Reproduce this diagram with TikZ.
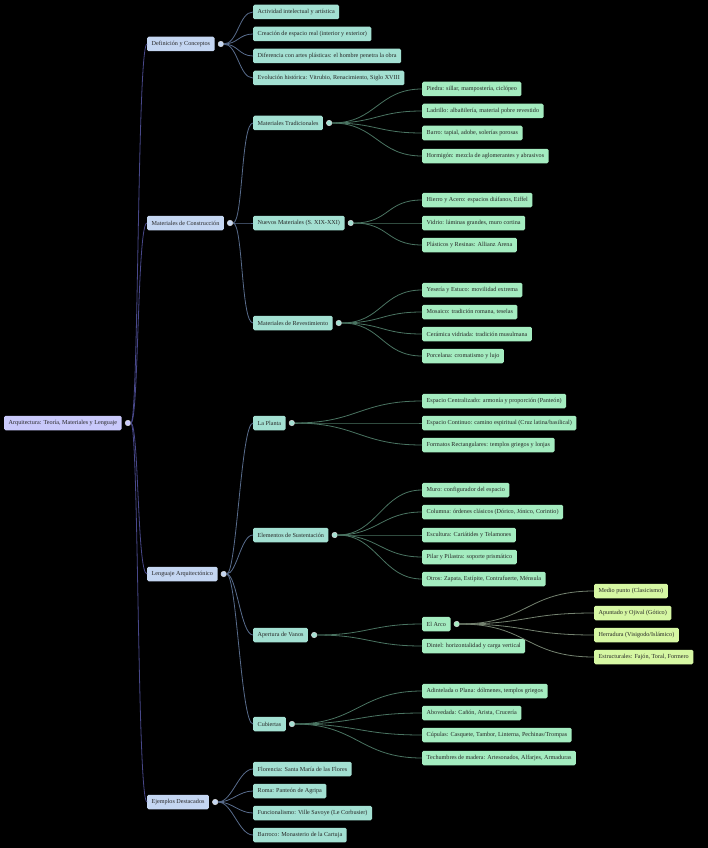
\documentclass[tikz,border=0pt]{standalone}
\usepackage{fontspec}
\setmainfont{Liberation Serif}
\usetikzlibrary{positioning}
\definecolor{rootfill}{RGB}{201, 201, 251}
\definecolor{secfill}{RGB}{196, 214, 242}
\definecolor{subfill}{RGB}{163, 224, 210}
\definecolor{leaffill}{RGB}{164, 236, 192}
\definecolor{archfill}{RGB}{214, 247, 163}
\definecolor{rootlink}{RGB}{72, 72, 138}
\definecolor{seclink}{RGB}{88, 108, 140}
\definecolor{sublink}{RGB}{74, 116, 98}
\definecolor{archlink}{RGB}{116, 130, 112}

\begin{document}
\begin{tikzpicture}[x=1pt, y=-1pt, node distance=3pt,
  every node/.style={font=\fontsize{6.15}{7}\selectfont},
  box/.style={rounded corners=1.5pt, anchor=west, minimum height=14.5pt, inner xsep=4.5pt, inner ysep=0pt, text=black!85},
  dot/.style={circle, draw=white!85!black, line width=0.5pt, inner sep=0pt, minimum size=5.5pt},
  link/.style={line width=0.8pt}]
  \fill[black] (0,0) rectangle (708,848);

  % root
  \node[box, fill=rootfill] (root) at (4,423) {Arquitectura: Teoría, Materiales y Lenguaje};
  \node[dot, fill=rootfill, right=of root] (root-c) {};

  % main sections
  \foreach \n/\y/\t in {def/44/Definición y Conceptos, mat/223/Materiales de Construcción,
      len/574/Lenguaje Arquitectónico, ej/802/Ejemplos Destacados} {
    \node[box, fill=secfill] (\n) at (147,\y) {\t};
    \node[dot, fill=secfill, right=of \n] (\n-c) {};
    \draw[link, rootlink] (root-c.east) .. controls +(8,0) and +(-10,0) .. (\n.west);
  }

  % definicion
  \foreach \n/\y/\t in {def1/12/Actividad intelectual y artística,
      def2/34/Creación de espacio real (interior y exterior),
      def3/56/Diferencia con artes plásticas: el hombre penetra la obra,
      def4/78/{Evolución histórica: Vitrubio, Renacimiento, Siglo XVIII}} {
    \node[box, fill=subfill] (\n) at (253,\y) {\t};
    \draw[link, seclink] (def-c.east) .. controls +(14,0) and +(-14,0) .. (\n.west);
  }

  % materiales
  \foreach \n/\y/\t in {trad/123/Materiales Tradicionales, nue/223/Nuevos Materiales (S. XIX-XXI),
      rev/323/Materiales de Revestimiento} {
    \node[box, fill=subfill] (\n) at (253,\y) {\t};
    \node[dot, fill=subfill, right=of \n] (\n-c) {};
    \draw[link, seclink] (mat-c.east) .. controls +(10,0) and +(-12,0) .. (\n.west);
  }
  \foreach \n/\y/\t in {trad1/89/{Piedra: sillar, mampostería, ciclópeo},
      trad2/111/{Ladrillo: albañilería, material pobre revestido},
      trad3/133/{Barro: tapial, adobe, solerías porosas},
      trad4/156/Hormigón: mezcla de aglomerantes y abrasivos} {
    \node[box, fill=leaffill] (\n) at (422,\y) {\t};
    \draw[link, sublink] (trad-c.east) .. controls +(44,0) and +(-44,0) .. (\n.west);
  }
  \foreach \n/\y/\t in {nue1/200/{Hierro y Acero: espacios diáfanos, Eiffel},
      nue2/223/{Vidrio: láminas grandes, muro cortina},
      nue3/245/Plásticos y Resinas: Allianz Arena} {
    \node[box, fill=leaffill] (\n) at (422,\y) {\t};
    \draw[link, sublink] (nue-c.east) .. controls +(36,0) and +(-36,0) .. (\n.west);
  }
  \foreach \n/\y/\t in {rev1/290/Yesería y Estuco: movilidad extrema,
      rev2/312/{Mosaico: tradición romana, teselas},
      rev3/334/Cerámica vidriada: tradición musulmana,
      rev4/356/Porcelana: cromatismo y lujo} {
    \node[box, fill=leaffill] (\n) at (422,\y) {\t};
    \draw[link, sublink] (rev-c.east) .. controls +(40,0) and +(-40,0) .. (\n.west);
  }

  % lenguaje
  \foreach \n/\y/\t in {pla/423/La Planta, sus/535/Elementos de Sustentación,
      ape/635/Apertura de Vanos, cub/724/Cubiertas} {
    \node[box, fill=subfill] (\n) at (253,\y) {\t};
    \node[dot, fill=subfill, right=of \n] (\n-c) {};
    \draw[link, seclink] (len-c.east) .. controls +(10,0) and +(-12,0) .. (\n.west);
  }
  \foreach \n/\y/\t in {pla1/401/{Espacio Centralizado: armonía y proporción (Panteón)},
      pla2/423/{Espacio Continuo: camino espiritual (Cruz latina/basilical)},
      pla3/445/{Formatos Rectangulares: templos griegos y lonjas}} {
    \node[box, fill=leaffill] (\n) at (422,\y) {\t};
    \draw[link, sublink] (pla-c.east) .. controls +(62,0) and +(-62,0) .. (\n.west);
  }
  \foreach \n/\y/\t in {sus1/490/Muro: configurador del espacio,
      sus2/512/{Columna: órdenes clásicos (Dórico, Jónico, Corintio)},
      sus3/535/Escultura: Cariátides y Telamones,
      sus4/557/Pilar y Pilastra: soporte prismático,
      sus5/579/{Otros: Zapata, Estípite, Contrafuerte, Ménsula}} {
    \node[box, fill=leaffill] (\n) at (422,\y) {\t};
    \draw[link, sublink] (sus-c.east) .. controls +(40,0) and +(-40,0) .. (\n.west);
  }
  \node[box, fill=leaffill] (arco) at (422,624) {El Arco};
  \node[dot, fill=leaffill, right=of arco] (arco-c) {};
  \node[box, fill=leaffill] (dintel) at (422,646) {Dintel: horizontalidad y carga vertical};
  \draw[link, sublink] (ape-c.east) .. controls +(50,0) and +(-50,0) .. (arco.west);
  \draw[link, sublink] (ape-c.east) .. controls +(50,0) and +(-50,0) .. (dintel.west);
  \foreach \n/\y/\t in {arco1/591/{Medio punto (Clasicismo)},
      arco2/613/{Apuntado y Ojival (Gótico)},
      arco3/635/{Herradura (Visigodo/Islámico)},
      arco4/657/{Estructurales: Fajón, Toral, Formero}} {
    \node[box, fill=archfill] (\n) at (594,\y) {\t};
    \draw[link, archlink] (arco-c.east) .. controls +(68,0) and +(-68,0) .. (\n.west);
  }
  \foreach \n/\y/\t in {cub1/691/{Adintelada o Plana: dólmenes, templos griegos},
      cub2/713/{Abovedada: Cañón, Arista, Crucería},
      cub3/735/{Cúpulas: Casquete, Tambor, Linterna, Pechinas/Trompas},
      cub4/758/{Techumbres de madera: Artesonados, Alfarjes, Armaduras}} {
    \node[box, fill=leaffill] (\n) at (422,\y) {\t};
    \draw[link, sublink] (cub-c.east) .. controls +(62,0) and +(-62,0) .. (\n.west);
  }

  % ejemplos
  \foreach \n/\y/\t in {ej1/769/Florencia: Santa María de las Flores,
      ej2/791/Roma: Panteón de Agripa,
      ej3/813/Funcionalismo: Ville Savoye (Le Corbusier),
      ej4/835/Barroco: Monasterio de la Cartuja} {
    \node[box, fill=subfill] (\n) at (253,\y) {\t};
    \draw[link, seclink] (ej-c.east) .. controls +(14,0) and +(-14,0) .. (\n.west);
  }
\end{tikzpicture}
\end{document}
